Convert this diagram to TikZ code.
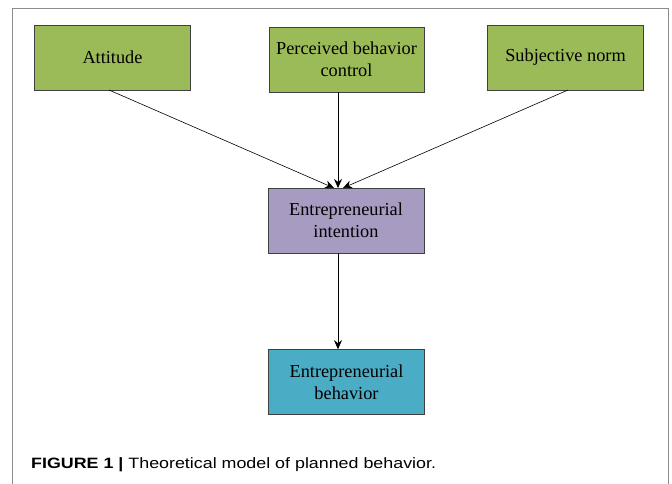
\documentclass[tikz,border=0pt]{standalone}
\usepackage{fontspec}
\setmainfont{Liberation Serif}
\newfontfamily\capfont{Liberation Sans}
\usetikzlibrary{arrows.meta}
\definecolor{boxgreen}{HTML}{9BBB59}
\definecolor{boxpurple}{HTML}{A89BC2}
\definecolor{boxteal}{HTML}{4BACC6}
\definecolor{framegray}{HTML}{8C8C8C}
\begin{document}
\begin{tikzpicture}[x=1pt,y=-1pt,
  box/.style={draw=black!75,line width=0.6pt,minimum width=156pt,minimum height=65pt,inner sep=0pt,align=center,font=\fontsize{18.3}{22}\selectfont},
  arr/.style={line width=0.6pt,-{Stealth[length=9pt,width=8pt]}}]
\useasboundingbox (0,0) rectangle (672,484);
\draw[framegray,line width=0.8pt] (12,484) -- (12,8) -- (668,8) -- (668,484);
\node[box,fill=boxgreen] (att) at (112.5,57.5) {Attitude};
\node[box,fill=boxgreen,minimum width=155pt] (pbc) at (346.5,59.5) {Perceived behavior\\control};
\node[box,fill=boxgreen] (sn) at (565.5,57.5) {Subjective norm};
\node[box,fill=boxpurple] (int) at (346,220.5) {Entrepreneurial\\intention};
\node[box,fill=boxteal] (beh) at (346.5,382) {Entrepreneurial\\behavior};
\coordinate (attS) at (109,90);
\coordinate (snS) at (568,90);
\coordinate (t1) at (334,188);
\coordinate (t2) at (338,188);
\coordinate (t3) at (343,188);
\draw[arr] (attS) -- (t1);
\draw[arr] (pbc.south -| t2) -- (t2);
\draw[arr] (snS) -- (t3);
\draw[arr] (int.south -| t2) -- (beh.north -| t2);
\node[anchor=base west,inner sep=0pt,font=\capfont\fontsize{15}{18}\selectfont] (cap) at (31,468) {\scalebox{1.19}[1]{\textbf{FIGURE 1 |} Theoretical model of planned behavior.}};
\end{tikzpicture}
\end{document}
